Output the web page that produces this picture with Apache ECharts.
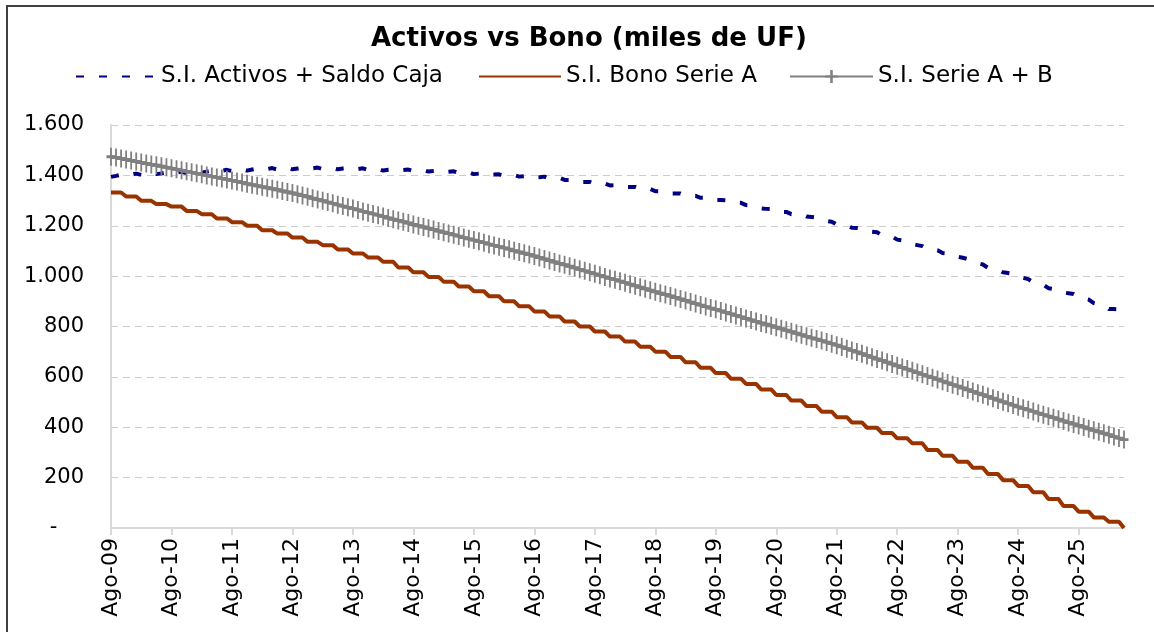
<!DOCTYPE html>
<html lang="es">
<head>
    <meta charset="UTF-8">
    <title>Activos vs Bono</title>
    <script type="text/javascript" src="https://cdn.jsdelivr.net/npm/echarts@6/dist/echarts.min.js"></script>
</head>
<style>
    body {
        margin: 0;
        background-color: #fff;
    }
    #chart {
        width: 1154px;
        height: 632px;
    }
</style>
<body>
<div id="chart"></div>
</body>
<script>
    // meses (primer dato Ago-09, ultimo May-26)
    var mesesNombre = ['Ene','Feb','Mar','Abr','May','Jun','Jul','Ago','Sep','Oct','Nov','Dic']
    var anioInicio = 2009
    var mesInicio = 7 // Ago
    var totalMeses = 202

    var yTicks = [0, 200, 400, 600, 800, 1000, 1200, 1400, 1600]

    // S.I. Activos + Saldo Caja (mensual)
    var activos = [
        1394,1398,1403,1398,1402,1407, 1402,1406,1410,1405,1408,1412,
        1407,1411,1414,1409,1413,1416, 1411,1415,1419,1414,1418,1422,
        1417,1421,1425,1419,1423,1427, 1422,1425,1429,1423,1426,1430,
        1424,1427,1430,1425,1428,1431, 1425,1428,1430,1424,1427,1429,
        1423,1425,1428,1421,1423,1426, 1419,1422,1424,1418,1421,1423,
        1417,1419,1421,1415,1417,1419, 1412,1414,1416,1409,1410,1412,
        1405,1407,1408,1401,1403,1404, 1397,1399,1401,1395,1397,1399,
        1392,1393,1395,1387,1388,1390, 1382,1382,1382,1374,1374,1374,
        1365,1366,1367,1360,1361,1362, 1354,1354,1354,1346,1346,1346,
        1337,1337,1337,1328,1328,1328, 1319,1319,1319,1311,1311,1311,
        1302,1302,1301,1292,1292,1291, 1282,1281,1279,1269,1267,1266,
        1255,1255,1255,1246,1246,1246, 1237,1235,1232,1221,1219,1216,
        1205,1204,1202,1192,1191,1189, 1179,1176,1174,1162,1159,1157,
        1145,1142,1138,1126,1123,1119, 1107,1105,1103,1092,1090,1088,
        1077,1073,1068,1055,1051,1046, 1033,1030,1027,1015,1012,1009,
        997,993,988,975,970,966, 952,949,946,935,932,929,
        917,912,907,893,888,883, 869,869,868,859
    ]

    // S.I. Bono Serie A (trimestral, se mantiene 3 meses)
    var bonoTrim = [
        1332,1316,1299,1286, 1276,1259,1246,1229, 1214,1200,1182,1169,
        1153,1136,1123,1106, 1090,1074,1057,1034, 1015,997,978,959,
        940,920,900,880, 860,840,820,800, 780,760,740,720,
        700,679,658,636, 615,593,572,550, 528,506,484,462,
        440,419,398,377, 356,336,310,287, 263,239,214,190,
        167,142,115,87, 65,42,25,0
    ]

    // S.I. Serie A + B (mensual)
    var serieAB = [
        1474,1471,1467,1463,1459,1455,1451,1447,1443,1440,1436,1432,1428,
        1424,1420,1416,1412,1408,1404,1400,1396,1392,1388,1384,1380,
        1376,1372,1367,1363,1359,1355,1351,1347,1343,1338,1334,1330,
        1325,1320,1315,1309,1304,1299,1294,1289,1283,1278,1273,1268,
        1263,1257,1252,1247,1242,1237,1231,1226,1221,1216,1211,1205,
        1200,1195,1190,1185,1179,1174,1169,1164,1159,1153,1148,1143,
        1138,1133,1127,1122,1117,1112,1107,1101,1096,1091,1086,1080,
        1074,1068,1062,1056,1050,1045,1039,1033,1027,1021,1015,1009,
        1003,997,991,986,980,974,968,962,956,950,944,938,
        932,927,921,915,909,903,897,891,885,879,873,868,
        862,856,850,844,838,832,826,820,814,809,803,797,
        791,785,779,773,767,761,755,750,744,738,732,726,
        719,712,705,699,692,685,678,671,665,658,651,644,
        637,631,624,617,610,603,597,590,583,576,569,563,
        556,549,542,535,529,522,515,508,501,495,488,481,
        475,469,463,456,450,444,438,432,425,419,413,407,
        401,394,388,382,376,370,363,357,351
    ]

    var categorias = []
    for (var i = 0; i < totalMeses; i++) {
        var m = (mesInicio + i) % 12
        var a = anioInicio + Math.floor((mesInicio + i) / 12)
        categorias.push(mesesNombre[m] + '-' + String(a % 100).padStart(2, '0'))
    }

    var bono = []
    for (var q = 0; q < bonoTrim.length; q++) {
        for (var k = 0; k < 3 && bono.length < totalMeses; k++) {
            bono.push(bonoTrim[q])
        }
    }

    function formatoMiles(v) {
        if (v === 0) {
            return '-    '
        }
        if (v >= 1000) {
            return Math.floor(v / 1000) + '.' + String(v % 1000).padStart(3, '0')
        }
        return String(v)
    }

    var myChart = echarts.init(document.getElementById('chart'));

    var fuente = 'DejaVu Sans'
    // cruz "+" delgada
    var plusPath = 'path://M4,0h2v10h-2z M0,4.2h10v1.6h-10z'
    var textoLeyenda = { fontFamily: fuente, fontSize: 23, color: '#000' }

    var option = {
        animation: false,
        backgroundColor: '#fff',
        title: {
            text: 'Activos vs Bono (miles de UF)',
            left: 366,
            top: 21,
            textStyle: {
                fontFamily: fuente,
                fontSize: 26,
                fontWeight: 'bold',
                color: '#000'
            }
        },
        legend: [
            {
                left: 70, top: 60, itemWidth: 80, itemHeight: 14,
                data: ['S.I. Activos + Saldo Caja'],
                itemStyle: { opacity: 0 },
                textStyle: textoLeyenda
            },
            {
                left: 473, top: 60, itemWidth: 82, itemHeight: 14,
                data: ['S.I. Bono Serie A'],
                itemStyle: { opacity: 0 },
                textStyle: textoLeyenda
            },
            {
                left: 784, top: 60, itemWidth: 83, itemHeight: 16,
                data: ['S.I. Serie A + B'],
                textStyle: textoLeyenda
            }
        ],
        grid: {
            left: 111,
            right: 30,
            top: 125,
            bottom: 104
        },
        xAxis: {
            type: 'category',
            boundaryGap: false,
            data: categorias,
            axisLine: { lineStyle: { color: '#d9d9d9', width: 2 } },
            axisTick: { interval: 11, length: 7, lineStyle: { color: '#d9d9d9', width: 2 } },
            axisLabel: {
                interval: 11,
                rotate: 90,
                margin: 10,
                fontFamily: fuente,
                fontSize: 22,
                color: '#000'
            },
            splitLine: { show: false }
        },
        yAxis: {
            type: 'value',
            min: yTicks[0],
            max: yTicks[yTicks.length - 1],
            interval: 200,
            axisLine: { show: true, lineStyle: { color: '#d9d9d9', width: 2 } },
            axisTick: { show: false },
            axisLabel: {
                margin: 27,
                fontFamily: fuente,
                fontSize: 21,
                color: '#000',
                formatter: formatoMiles
            },
            splitLine: {
                lineStyle: { color: '#cccccc', width: 1, type: [7, 5] }
            }
        },
        graphic: [
            {
                type: 'rect',
                shape: { x: 7, y: 6, width: 2000, height: 2000 },
                style: { fill: 'none', stroke: '#404040', lineWidth: 2 },
                silent: true
            }
        ],
        series: [
            {
                name: 'S.I. Activos + Saldo Caja',
                type: 'line',
                data: activos,
                symbol: 'none',
                z: 3,
                lineStyle: { color: '#000080', width: 4, type: [8, 15] },
                itemStyle: { color: '#000080' }
            },
            {
                name: 'S.I. Bono Serie A',
                type: 'line',
                data: bono,
                symbol: 'none',
                z: 2,
                lineStyle: { color: '#993300', width: 4 },
                itemStyle: { color: '#993300' }
            },
            {
                name: 'S.I. Serie A + B',
                type: 'line',
                data: serieAB,
                symbol: plusPath,
                symbolSize: [9, 18],
                showAllSymbol: true,
                z: 4,
                lineStyle: { color: '#808080', width: 3.5 },
                itemStyle: { color: '#808080' }
            }
        ]
    };
    myChart.setOption(option);
</script>
</html>
